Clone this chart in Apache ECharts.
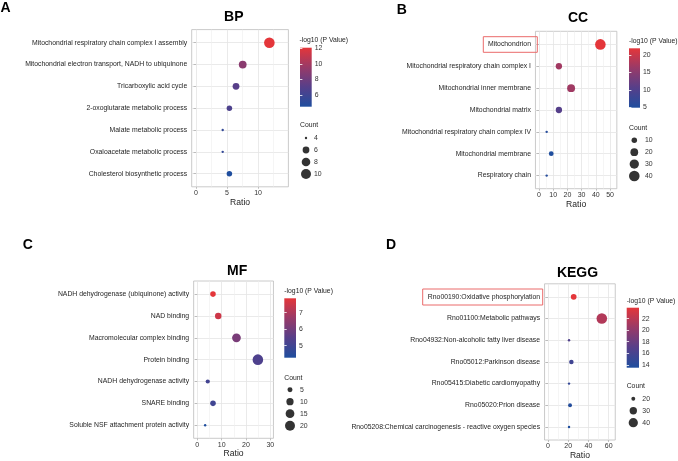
<!DOCTYPE html>
<html>
<head>
<meta charset="utf-8">
<script src="https://cdn.jsdelivr.net/npm/echarts@6/dist/echarts.min.js"></script>
<style>
  html, body { margin: 0; padding: 0; background: #fff; }
  #chart { width: 678px; height: 461px; }
</style>
</head>
<body>
<div id="chart"></div>
<script>
// ---- data ----
const bpTerms = [
  'Mitochondrial respiratory chain complex I assembly',
  'Mitochondrial electron transport, NADH to ubiquinone',
  'Tricarboxylic acid cycle',
  '2-oxoglutarate metabolic process',
  'Malate metabolic process',
  'Oxaloacetate metabolic process',
  'Cholesterol biosynthetic process'
];
const bpRatio = [11.83, 7.53, 6.45, 5.38, 4.30, 4.30, 5.38];
const bpCount = [11, 7, 6, 5, 4, 4, 5];
const bpLogP = [12.1, 9.0, 7.1, 6.6, 5.4, 5.4, 4.47];

const ccTerms = [
  'Mitochondrion',
  'Mitochondrial respiratory chain complex I',
  'Mitochondrial inner membrane',
  'Mitochondrial matrix',
  'Mitochondrial respiratory chain complex IV',
  'Mitochondrial membrane',
  'Respiratory chain'
];
const ccRatio = [43.2, 14.0, 22.6, 14.0, 5.4, 8.6, 5.4];
const ccCount = [40, 13, 21, 13, 5, 8, 5];
const ccLogP = [21.9, 17.0, 16.8, 10.5, 5.6, 4.9, 5.5];

const mfTerms = [
  'NADH dehydrogenase (ubiquinone) activity',
  'NAD binding',
  'Macromolecular complex binding',
  'Protein binding',
  'NADH dehydrogenase activity',
  'SNARE binding',
  'Soluble NSF attachment protein activity'
];
const mfRatio = [6.45, 8.6, 16.1, 24.9, 4.3, 6.45, 3.23];
const mfCount = [6, 8, 15, 23, 4, 6, 3];
const mfLogP = [7.87, 7.5, 6.1, 5.3, 5.05, 5.0, 4.27];

const keggTerms = [
  'Rno00190:Oxidative phosphorylation',
  'Rno01100:Metabolic pathways',
  'Rno04932:Non-alcoholic fatty liver disease',
  'Rno05012:Parkinson disease',
  'Rno05415:Diabetic cardiomyopathy',
  'Rno05020:Prion disease',
  'Rno05208:Chemical carcinogenesis - reactive oxygen species'
];
const keggRatio = [25.4, 53.2, 20.8, 23.1, 20.8, 21.8, 20.8];
const keggCount = [24, 49, 19, 21, 19, 20, 19];
const keggLogP = [23.9, 21.6, 16.6, 15.6, 14.8, 13.8, 13.5];

// tick labels
const bpTicks = [0, 5, 10], bpMinor = [2.5, 7.5, 12.5];
const ccTicks = [0, 10, 20, 30, 40, 50], ccMinor = [5, 15, 25, 35, 45];
const mfTicks = [0, 10, 20, 30], mfMinor = [5, 15, 25];
const keggTicks = [0, 20, 40, 60], keggMinor = [10, 30, 50];

const bpColorBreaks = [6, 8, 10, 12];
const ccColorBreaks = [5, 10, 15, 20];
const mfColorBreaks = [5, 6, 7];
const keggColorBreaks = [14, 16, 18, 20, 22];

const bpSizeBreaks = [4, 6, 8, 10];
const ccSizeBreaks = [10, 20, 30, 40];
const mfSizeBreaks = [5, 10, 15, 20];
const keggSizeBreaks = [20, 30, 40];

// ---- style / layout ----
const FONT = '"Liberation Sans", Arial, Helvetica, sans-serif';
const RAMP = ['#1f4e9e', '#563f8a', '#983a68', '#e4363a'];
const D_MIN = 2.4, D_MAX = 10.6;
const TXT = '#1e1e1e';

const panels = [
  { letter: 'A', title: 'BP', terms: bpTerms, ratio: bpRatio, count: bpCount, logp: bpLogP,
    ticks: bpTicks, minor: bpMinor, cBreaks: bpColorBreaks, sBreaks: bpSizeBreaks,
    xMin: -0.7, xMax: 14.9,
    grid: { left: 191.7, top: 29.6, width: 96.7, height: 157.2 },
    letterPos: [0.5, 8], titlePos: [233.8, 16.7],
    cTitle: [299.5, 40], bar: [300, 47.7, 11.7, 59], cTitleCount: [300, 125.5],
    legend: { cx: 306, top: 132, rowH: 12, labelX: 314 } },
  { letter: 'B', title: 'CC', terms: ccTerms, ratio: ccRatio, count: ccCount, logp: ccLogP,
    ticks: ccTicks, minor: ccMinor, cBreaks: ccColorBreaks, sBreaks: ccSizeBreaks,
    xMin: -2.5, xMax: 54.8,
    grid: { left: 535.45, top: 31.3, width: 81.4, height: 157.4 },
    letterPos: [396.7, 10], titlePos: [578, 18.3],
    cTitle: [629, 41.5], bar: [629, 48.3, 11, 59.4], cTitleCount: [629, 127.7],
    legend: { cx: 634.3, top: 134.3, rowH: 11.9, labelX: 645 },
    box: [483.3, 36.7, 54, 15.6] },
  { letter: 'C', title: 'MF', terms: mfTerms, ratio: mfRatio, count: mfCount, logp: mfLogP,
    ticks: mfTicks, minor: mfMinor, cBreaks: mfColorBreaks, sBreaks: mfSizeBreaks,
    xMin: -1.5, xMax: 31.3,
    grid: { left: 193.65, top: 281, width: 79.8, height: 157.3 },
    letterPos: [22.7, 245], titlePos: [237.2, 271],
    cTitle: [284.3, 291], bar: [284.3, 298.3, 11.7, 59.4], cTitleCount: [284.3, 377.7],
    legend: { cx: 290, top: 383.7, rowH: 12, labelX: 300 } },
  { letter: 'D', title: 'KEGG', terms: keggTerms, ratio: keggRatio, count: keggCount, logp: keggLogP,
    ticks: keggTicks, minor: keggMinor, cBreaks: keggColorBreaks, sBreaks: keggSizeBreaks,
    xMin: -3.4, xMax: 66.5,
    grid: { left: 544.56, top: 283.8, width: 70.7, height: 157.4 },
    letterPos: [386, 245.5], titlePos: [577.5, 272.7],
    cTitle: [626.7, 300.7], bar: [626.7, 307.7, 12.3, 60], cTitleCount: [626.7, 386],
    legend: { cx: 633.3, top: 392.7, rowH: 12, labelX: 642.3 },
    box: [422.7, 289, 120, 16] }
];

function sizeFn(c, cmin, cmax) {
  const t = cmax > cmin ? Math.max(0, (c - cmin) / (cmax - cmin)) : 0;
  return D_MIN + (D_MAX - D_MIN) * Math.sqrt(t);
}

const grids = [], xAxes = [], yAxes = [], series = [], visualMaps = [], graphics = [];

panels.forEach((p, k) => {
  const cmin = Math.min(...p.count), cmax = Math.max(...p.count);
  const lmin = Math.min(...p.logp), lmax = Math.max(...p.logp);

  // main panel
  const gi = grids.length;
  grids.push(Object.assign({ show: true, borderColor: '#bdbdbd', borderWidth: 0.8,
    backgroundColor: '#fff', containLabel: false }, p.grid));
  const xi = xAxes.length;
  xAxes.push({
    type: 'value', gridIndex: gi, min: p.xMin, max: p.xMax,
    name: 'Ratio', nameLocation: 'middle', nameGap: 11,
    nameTextStyle: { fontFamily: FONT, fontSize: 8.6, color: TXT },
    axisLine: { show: false },
    axisTick: { show: true, length: 2, customValues: p.ticks, lineStyle: { color: '#b0b0b0', width: 0.8 } },
    axisLabel: { customValues: p.ticks, fontFamily: FONT, fontSize: 7, color: '#333', margin: 3 },
    splitLine: { show: true, lineStyle: { color: '#e4e4e4', width: 0.8 } }
  });
  // minor vertical grid lines
  xAxes.push({
    type: 'value', gridIndex: gi, min: p.xMin, max: p.xMax,
    axisLine: { show: false },
    axisTick: { show: false, customValues: p.minor },
    axisLabel: { show: false, customValues: p.minor },
    splitLine: { show: true, lineStyle: { color: '#eeeeee', width: 0.6 } }
  });
  const rows = p.terms.map((_, i) => i + 1);
  const yi = yAxes.length;
  yAxes.push({
    type: 'value', gridIndex: gi, min: 0.4, max: p.terms.length + 0.6, inverse: true,
    axisLine: { show: false },
    axisTick: { show: true, length: 2.5, customValues: rows, lineStyle: { color: '#b0b0b0', width: 0.8 } },
    axisLabel: { customValues: rows, fontFamily: FONT, fontSize: 6.85, color: TXT, margin: 4.5,
      formatter: v => p.terms[Math.round(v) - 1] || '' },
    splitLine: { show: true, lineStyle: { color: '#e4e4e4', width: 0.8 } }
  });
  const si = series.length;
  series.push({
    type: 'scatter', xAxisIndex: xi, yAxisIndex: yi,
    data: p.terms.map((t, i) => [p.ratio[i], i + 1, p.count[i], p.logp[i]]),
    symbolSize: v => sizeFn(v[2], cmin, cmax),
    itemStyle: { opacity: 1 },
    emphasis: { disabled: true },
    z: 5
  });
  visualMaps.push({
    type: 'continuous', show: false, seriesIndex: si, dimension: 3,
    min: lmin, max: lmax, inRange: { color: RAMP }
  });

  // colour bar: gradient rect + axis for labels
  const [bx, by, bw, bh] = p.bar;
  graphics.push({
    type: 'rect', shape: { x: bx, y: by, width: bw, height: bh }, z: 1,
    style: { fill: new echarts.graphic.LinearGradient(0, 0, 0, 1,
      RAMP.slice().reverse().map((c, i) => ({ offset: i / (RAMP.length - 1), color: c }))) }
  });
  const cg = grids.length;
  grids.push({ left: bx, top: by, width: bw, height: bh, show: false });
  xAxes.push({ type: 'value', gridIndex: cg, show: false, min: 0, max: 1 });
  yAxes.push({
    type: 'value', gridIndex: cg, position: 'right', min: lmin, max: lmax, z: 10,
    axisLine: { show: false }, splitLine: { show: false },
    axisTick: { show: true, inside: true, length: 2.4, customValues: p.cBreaks, lineStyle: { color: '#fff', width: 0.8 } },
    axisLabel: { customValues: p.cBreaks, fontFamily: FONT, fontSize: 6.9, color: '#333', margin: 3 }
  });
  yAxes.push({
    type: 'value', gridIndex: cg, position: 'left', min: lmin, max: lmax, z: 10,
    axisLine: { show: false }, splitLine: { show: false },
    axisTick: { show: true, inside: true, length: 2.4, customValues: p.cBreaks, lineStyle: { color: '#fff', width: 0.8 } },
    axisLabel: { show: false, customValues: p.cBreaks }
  });

  // size legend
  const L = p.legend;
  const lg = grids.length;
  grids.push({ left: L.cx - 6, top: L.top, width: 12, height: L.rowH * p.sBreaks.length, show: false });
  const lx = xAxes.length;
  xAxes.push({ type: 'value', gridIndex: lg, show: false, min: 0, max: 1 });
  const ly = yAxes.length;
  yAxes.push({
    type: 'category', gridIndex: lg, position: 'right', inverse: true,
    data: p.sBreaks.map(String),
    axisLine: { show: false }, axisTick: { show: false }, splitLine: { show: false },
    axisLabel: { fontFamily: FONT, fontSize: 6.9, color: '#333', margin: L.labelX - (L.cx + 6) }
  });
  series.push({
    type: 'scatter', xAxisIndex: lx, yAxisIndex: ly,
    data: p.sBreaks.map((b, i) => [0.5, i]),
    symbolSize: (v, prm) => sizeFn(p.sBreaks[prm.dataIndex], cmin, cmax),
    itemStyle: { color: '#000' },
    emphasis: { disabled: true }
  });

  // texts
  graphics.push({ type: 'text', x: p.letterPos[0], y: p.letterPos[1],
    style: { text: p.letter, font: 'bold 14px ' + FONT, fill: '#000', textVerticalAlign: 'middle', verticalAlign: 'middle' } });
  graphics.push({ type: 'text', x: p.titlePos[0], y: p.titlePos[1],
    style: { text: p.title, font: 'bold 14px ' + FONT, fill: '#000', textAlign: 'center', align: 'center',
      textVerticalAlign: 'middle', verticalAlign: 'middle' } });
  graphics.push({ type: 'text', x: p.cTitle[0], y: p.cTitle[1],
    style: { text: '-log10 (P Value)', font: '6.8px ' + FONT, fill: TXT, textVerticalAlign: 'middle', verticalAlign: 'middle' } });
  graphics.push({ type: 'text', x: p.cTitleCount[0], y: p.cTitleCount[1],
    style: { text: 'Count', font: '6.8px ' + FONT, fill: TXT, textVerticalAlign: 'middle', verticalAlign: 'middle' } });
  if (p.box) {
    graphics.push({ type: 'rect', shape: { x: p.box[0], y: p.box[1], width: p.box[2], height: p.box[3] },
      style: { fill: 'none', stroke: '#ea6b6b', lineWidth: 1 }, z: 20 });
  }
});

const chart = echarts.init(document.getElementById('chart'), null, { renderer: 'canvas' });
chart.setOption({
  animation: false,
  backgroundColor: '#fff',
  textStyle: { fontFamily: FONT },
  grid: grids,
  xAxis: xAxes,
  yAxis: yAxes,
  visualMap: visualMaps,
  series: series,
  graphic: { elements: graphics }
});
</script>
</body>
</html>
